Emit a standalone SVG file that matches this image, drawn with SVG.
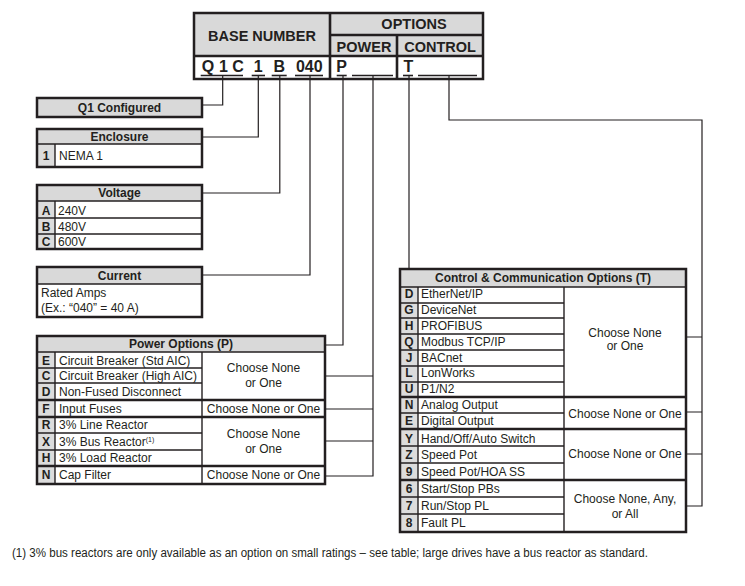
<svg xmlns="http://www.w3.org/2000/svg" width="745" height="586" viewBox="0 0 745 586">
<style>
text{font-family:"Liberation Sans",Arial,Helvetica,sans-serif;fill:#231f20;font-size:12px}
.b{font-weight:bold}
.c{text-anchor:middle}
.h14{font-size:14.5px;font-weight:bold}
.h16{font-size:16px;font-weight:bold;text-anchor:middle}
.hdr{fill:#d9d9d9}
.code{fill:#dcdcdc}
.box{fill:none;stroke:#231f20;stroke-width:2.5}
.dv{stroke:#231f20;stroke-width:1.4}
.hv{stroke:#231f20;stroke-width:2.6}
.ul{stroke:#231f20;stroke-width:1.6}
.conn{fill:none;stroke:#231f20;stroke-width:1.2}
</style>
<rect width="745" height="586" fill="#fff"/>

<g id="header">
<rect x="194" y="13" width="289" height="43" class="hdr"/>
<rect x="194" y="56" width="289" height="23" fill="#fff"/>
<line x1="194" y1="56" x2="483" y2="56" class="hv"/>
<line x1="330" y1="35" x2="483" y2="35" class="hv"/>
<line x1="330" y1="13" x2="330" y2="79" class="hv"/>
<line x1="397" y1="35" x2="397" y2="79" class="hv"/>
<rect x="194" y="13" width="289" height="66" class="box" stroke-width="3"/>
<text x="262" y="41" class="h14 c">BASE NUMBER</text>
<text x="414" y="29" class="h14 c">OPTIONS</text>
<text x="364" y="52" class="h14 c">POWER</text>
<text x="440" y="52" class="h14 c">CONTROL</text>
<text x="208" y="71.5" class="h16">Q</text>
<text x="223.5" y="71.5" class="h16">1</text>
<text x="238" y="71.5" class="h16">C</text>
<text x="258.3" y="71.5" class="h16">1</text>
<text x="279.3" y="71.5" class="h16">B</text>
<text x="309.3" y="71.5" class="h16">040</text>
<text x="341.7" y="71.5" class="h16">P</text>
<text x="408.5" y="71.5" class="h16">T</text>
<line x1="200.7" y1="75.5" x2="243" y2="75.5" class="ul"/>
<line x1="251.7" y1="75.5" x2="265" y2="75.5" class="ul"/>
<line x1="271.7" y1="75.5" x2="286.7" y2="75.5" class="ul"/>
<line x1="295" y1="75.5" x2="323" y2="75.5" class="ul"/>
<line x1="336.7" y1="75.5" x2="346.7" y2="75.5" class="ul"/>
<line x1="352" y1="75.5" x2="393" y2="75.5" class="ul"/>
<line x1="403" y1="75.5" x2="413" y2="75.5" class="ul"/>
<line x1="418" y1="75.5" x2="477" y2="75.5" class="ul"/>
</g>

<g id="q1-configured">
<rect x="37" y="98" width="165" height="19" class="hdr"/>
<rect x="37" y="98" width="165" height="19" class="box"/>
<text x="119.5" y="111.5" class="b c">Q1 Configured</text>
</g>

<g id="enclosure">
<rect x="37" y="129" width="165" height="15" class="hdr"/>
<rect x="37" y="144" width="18" height="23" class="code"/>
<line x1="37" y1="144" x2="202" y2="144" class="dv"/>
<line x1="55" y1="144" x2="55" y2="167" class="dv"/>
<rect x="37" y="129" width="165" height="38" class="box"/>
<text x="119.5" y="140.5" class="b c">Enclosure</text>
<text x="46" y="160" class="b c">1</text>
<text x="59" y="160">NEMA 1</text>
</g>

<g id="voltage">
<rect x="37" y="185" width="165" height="16" class="hdr"/>
<rect x="37" y="201" width="18" height="48" class="code"/>
<line x1="37" y1="201" x2="202" y2="201" class="dv"/>
<line x1="37" y1="218" x2="202" y2="218" class="dv"/>
<line x1="37" y1="234" x2="202" y2="234" class="dv"/>
<line x1="55" y1="201" x2="55" y2="249" class="dv"/>
<rect x="37" y="185" width="165" height="64" class="box"/>
<text x="119.5" y="197" class="b c">Voltage</text>
<text x="46" y="214.5" class="b c">A</text><text x="58" y="214.5">240V</text>
<text x="46" y="230.5" class="b c">B</text><text x="58" y="230.5">480V</text>
<text x="46" y="245.5" class="b c">C</text><text x="58" y="245.5">600V</text>
</g>

<g id="current">
<rect x="37" y="267" width="165" height="17" class="hdr"/>
<line x1="37" y1="284" x2="202" y2="284" class="dv"/>
<rect x="37" y="267" width="165" height="50" class="box"/>
<text x="119.5" y="279.5" class="b c">Current</text>
<text x="41" y="297">Rated Amps</text>
<text x="41" y="312">(Ex.: “040” = 40 A)</text>
</g>

<g id="power-options">
<rect x="37" y="336" width="288" height="16" class="hdr"/>
<rect x="37" y="352" width="18" height="132" class="code"/>
<line x1="37" y1="352" x2="325" y2="352" class="dv"/>
<line x1="55" y1="352" x2="55" y2="484" class="dv"/>
<line x1="202" y1="352" x2="202" y2="484" class="dv"/>
<line x1="37" y1="368" x2="202" y2="368" class="dv"/>
<line x1="37" y1="383" x2="202" y2="383" class="dv"/>
<line x1="37" y1="433" x2="202" y2="433" class="dv"/>
<line x1="37" y1="450" x2="202" y2="450" class="dv"/>
<line x1="37" y1="400" x2="325" y2="400" class="hv"/>
<line x1="37" y1="417" x2="325" y2="417" class="hv"/>
<line x1="37" y1="466" x2="325" y2="466" class="hv"/>
<rect x="37" y="336" width="288" height="148" class="box"/>
<text x="181" y="348" class="b c">Power Options (P)</text>
<text x="46" y="364.5" class="b c">E</text><text x="59" y="364.5">Circuit Breaker (Std AIC)</text>
<text x="46" y="380" class="b c">C</text><text x="59" y="380">Circuit Breaker (High AIC)</text>
<text x="46" y="396" class="b c">D</text><text x="59" y="396">Non-Fused Disconnect</text>
<text x="46" y="413" class="b c">F</text><text x="59" y="413">Input Fuses</text>
<text x="46" y="429" class="b c">R</text><text x="59" y="429">3% Line Reactor</text>
<text x="46" y="445.5" class="b c">X</text><text x="59" y="445.5">3% Bus Reactor<tspan font-size="7" dy="-4">(1)</tspan></text>
<text x="46" y="462" class="b c">H</text><text x="59" y="462">3% Load Reactor</text>
<text x="46" y="478.5" class="b c">N</text><text x="59" y="478.5">Cap Filter</text>
<text x="263.5" y="372" class="c">Choose None</text>
<text x="263.5" y="387" class="c">or One</text>
<text x="263.5" y="413" class="c">Choose None or One</text>
<text x="263.5" y="438" class="c">Choose None</text>
<text x="263.5" y="453" class="c">or One</text>
<text x="263.5" y="478.5" class="c">Choose None or One</text>
</g>

<g id="control-options">
<rect x="400" y="269" width="286" height="18" class="hdr"/>
<rect x="400" y="287" width="18" height="245" class="code"/>
<line x1="400" y1="287" x2="686" y2="287" class="dv"/>
<line x1="418" y1="287" x2="418" y2="532" class="dv"/>
<line x1="564" y1="287" x2="564" y2="532" class="dv"/>
<line x1="400" y1="303" x2="564" y2="303" class="dv"/>
<line x1="400" y1="318" x2="564" y2="318" class="dv"/>
<line x1="400" y1="334" x2="564" y2="334" class="dv"/>
<line x1="400" y1="350" x2="564" y2="350" class="dv"/>
<line x1="400" y1="366" x2="564" y2="366" class="dv"/>
<line x1="400" y1="382" x2="564" y2="382" class="dv"/>
<line x1="400" y1="413" x2="564" y2="413" class="dv"/>
<line x1="400" y1="446" x2="564" y2="446" class="dv"/>
<line x1="400" y1="463" x2="564" y2="463" class="dv"/>
<line x1="400" y1="497" x2="564" y2="497" class="dv"/>
<line x1="400" y1="514" x2="564" y2="514" class="dv"/>
<line x1="400" y1="397" x2="686" y2="397" class="hv"/>
<line x1="400" y1="429" x2="686" y2="429" class="hv"/>
<line x1="400" y1="480" x2="686" y2="480" class="hv"/>
<rect x="400" y="269" width="286" height="263" class="box"/>
<text x="543" y="282" class="b c">Control &amp; Communication Options (T)</text>
<text x="409" y="298" class="b c">D</text><text x="421" y="298">EtherNet/IP</text>
<text x="409" y="313.5" class="b c">G</text><text x="421" y="313.5">DeviceNet</text>
<text x="409" y="329.5" class="b c">H</text><text x="421" y="329.5">PROFIBUS</text>
<text x="409" y="345.5" class="b c">Q</text><text x="421" y="345.5">Modbus TCP/IP</text>
<text x="409" y="361.5" class="b c">J</text><text x="421" y="361.5">BACnet</text>
<text x="409" y="377" class="b c">L</text><text x="421" y="377">LonWorks</text>
<text x="409" y="392.5" class="b c">U</text><text x="421" y="392.5">P1/N2</text>
<text x="409" y="409" class="b c">N</text><text x="421" y="409">Analog Output</text>
<text x="409" y="425" class="b c">E</text><text x="421" y="425">Digital Output</text>
<text x="409" y="443" class="b c">Y</text><text x="421" y="443">Hand/Off/Auto Switch</text>
<text x="409" y="459" class="b c">Z</text><text x="421" y="459">Speed Pot</text>
<text x="409" y="475.5" class="b c">9</text><text x="421" y="475.5">Speed Pot/HOA SS</text>
<text x="409" y="493" class="b c">6</text><text x="421" y="493">Start/Stop PBs</text>
<text x="409" y="510" class="b c">7</text><text x="421" y="510">Run/Stop PL</text>
<text x="409" y="527" class="b c">8</text><text x="421" y="527">Fault PL</text>
<text x="625" y="336.5" class="c">Choose None</text>
<text x="625" y="350" class="c">or One</text>
<text x="625" y="417.5" class="c">Choose None or One</text>
<text x="625" y="457.5" class="c">Choose None or One</text>
<text x="625" y="503" class="c">Choose None, Any,</text>
<text x="625" y="518" class="c">or All</text>
</g>

<g id="connectors">
<path class="conn" d="M222.7,76 V105 H202"/>
<path class="conn" d="M258.3,76 V137 H202"/>
<path class="conn" d="M279.8,76 V193 H202"/>
<path class="conn" d="M310,76 V275 H202"/>
<path class="conn" d="M343,76 V345 H325"/>
<path class="conn" d="M373,76 V476 H325 M373,376 H325 M373,409 H325 M373,441 H325"/>
<path class="conn" d="M409,76 V269"/>
<path class="conn" d="M449,76 V120 H702 V506 H686 M702,337 H686 M702,412 H686 M702,454 H686"/>
</g>

<g id="footnote">
<text x="12" y="557" font-size="10.5" textLength="636" lengthAdjust="spacingAndGlyphs">(1) 3% bus reactors are only available as an option on small ratings – see table; large drives have a bus reactor as standard.</text>
</g>
</svg>
